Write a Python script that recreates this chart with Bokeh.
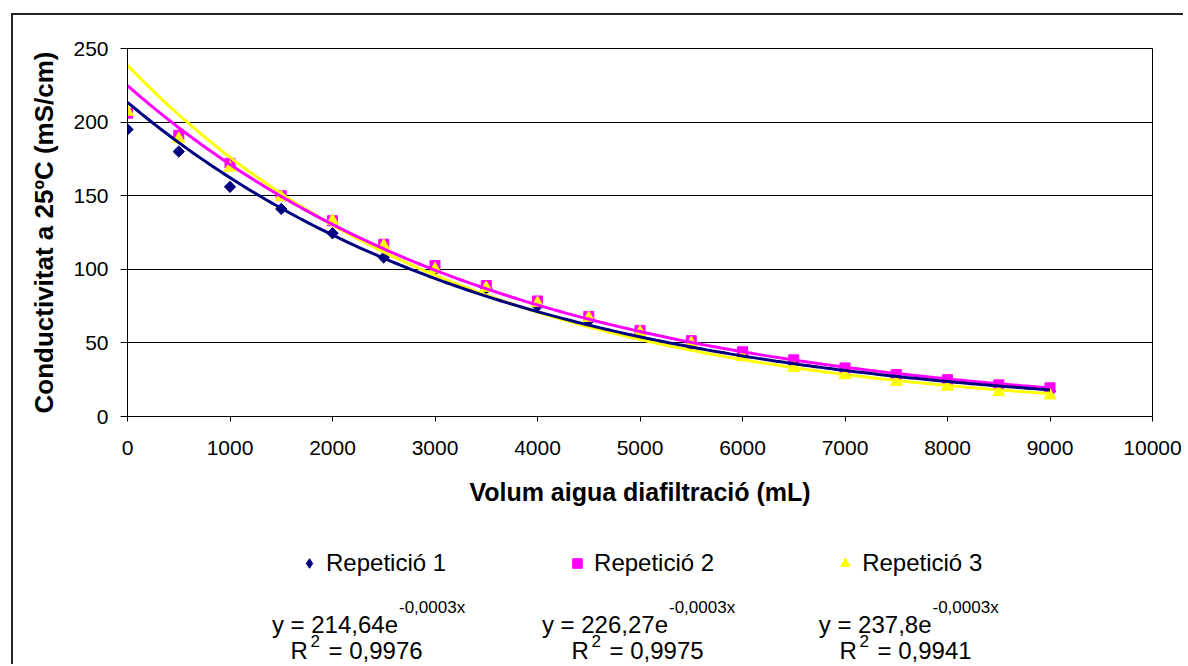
import numpy as np
from bokeh.plotting import figure
from bokeh.layouts import column
from bokeh.models import (Range1d, FixedTicker, Legend, LegendItem, Label,
                          ColumnDataSource)
from bokeh.embed import file_html
from bokeh.resources import INLINE

# ---------------- data ----------------
volum = [0, 500, 1000, 1500, 2000, 2500, 3000, 3500, 4000, 4500,
         5000, 5500, 6000, 6500, 7000, 7500, 8000, 8500, 9000]
rep1 = [195, 180, 156, 141, 124.5, 108, 99.5, 87, 75, 65,
        56, 48.3, 41.7, 36, 31.1, 26.8, 23.1, 20, 17.2]
rep2 = [206, 191, 172, 150, 133, 117, 102.5, 89, 78.5, 68,
        58.5, 51.5, 44, 38.5, 33, 28.5, 25, 21.5, 19.5]
rep3 = [207, 188.6, 169, 149, 133, 116, 100, 87.4, 77, 67,
        57.3, 49.8, 40.3, 33, 28, 23.5, 20.2, 16.5, 14.3]

x_ticks = [0, 1000, 2000, 3000, 4000, 5000, 6000, 7000, 8000, 9000, 10000]
y_ticks = [0, 50, 100, 150, 200, 250]

series_names = ["Repetició 1", "Repetició 2", "Repetició 3"]
eq_main = ["y = 214,64e", "y = 226,27e", "y = 237,8e"]
eq_exp = ["-0,0003x", "-0,0003x", "-0,0003x"]
r2_text = ["= 0,9976", "= 0,9975", "= 0,9941"]

x_title = "Volum aigua diafiltració (mL)"
y_title = "Conductivitat a 25ºC (mS/cm)"

# ---------------- style / layout constants ----------------
colors = ["#000080", "#FF00FF", "#FFFF00"]
# (marker, angle, size) in the plot; the legend cannot rotate, so it uses "diamond"
markers = [("square", np.pi / 4, 8), ("square", 0.0, 10), ("triangle", 0.0, 12)]
legend_markers = ["diamond", "square", "triangle"]
FONT = "Liberation Sans"

OX, OY = 13, 15            # content origin inside the outer chart border
W = 1170
H1, H2 = 505, 144
FRAME_L, FRAME_R, FRAME_T, FRAME_B = 127, 1152, 48, 416   # page px

# ---------------- chart figure ----------------
p = figure(width=W, height=H1, output_backend="svg", toolbar_location=None,
           x_range=Range1d(0, 10000), y_range=Range1d(0, 250),
           min_border_left=FRAME_L - OX, min_border_right=OX + W - FRAME_R,
           min_border_top=FRAME_T - OY, min_border_bottom=OY + H1 - FRAME_B)
p.background_fill_color = "white"
p.border_fill_color = "white"
p.outline_line_color = "black"
p.outline_line_width = 1

p.xgrid.visible = False
p.ygrid.grid_line_color = "black"
p.ygrid.grid_line_width = 1

p.xaxis.ticker = FixedTicker(ticks=x_ticks)
p.yaxis.ticker = FixedTicker(ticks=y_ticks)
for ax in (p.xaxis[0], p.yaxis[0]):
    ax.axis_line_color = "black"
    ax.major_tick_line_color = "black"
    ax.minor_tick_line_color = None
    ax.major_tick_in = 0
    ax.major_label_text_font = FONT
    ax.major_label_text_font_size = "21px"
    ax.major_label_text_color = "black"
    ax.axis_label_text_font = FONT
    ax.axis_label_text_font_style = "bold"
    ax.axis_label_text_color = "black"
p.xaxis.major_tick_out = 5
p.yaxis.major_tick_out = 7
p.xaxis.major_label_standoff = 19
p.yaxis.major_label_standoff = 12
p.xaxis.axis_label = x_title
p.yaxis.axis_label = y_title
p.xaxis.axis_label_text_font_size = "25px"
p.yaxis.axis_label_text_font_size = "26px"
p.xaxis.axis_label_standoff = 20
p.yaxis.axis_label_standoff = 11

# markers
for ys, c, (m, ang, sz) in zip([rep1, rep2, rep3], colors, markers):
    p.scatter(volum, ys, marker=m, angle=ang, size=sz,
              fill_color=c, line_color=c)

# exponential trendlines, least squares on ln(y) as Excel does
xv = np.array(volum, dtype=float)
xf = np.linspace(0, 9000, 200)
for ys, c in reversed(list(zip([rep1, rep2, rep3], colors))):
    b, a = np.polyfit(xv, np.log(np.array(ys, dtype=float)), 1)
    p.line(xf, np.exp(a) * np.exp(b * xf), line_color=c, line_width=3)

# ---------------- legend / equations figure (page-pixel ranges) ----------
Q_TOP, Q_BOT = OY + H1, OY + H1 + H2
q = figure(width=W, height=H2, output_backend="svg", toolbar_location=None,
           x_range=Range1d(FRAME_L, FRAME_R), y_range=Range1d(Q_BOT, Q_TOP),
           min_border_left=FRAME_L - OX, min_border_right=OX + W - FRAME_R,
           min_border_top=0, min_border_bottom=0,
           x_axis_type=None, y_axis_type=None)
q.outline_line_color = None
q.grid.visible = False
q.background_fill_color = "white"
q.border_fill_color = "white"

# legend renderers: the same series, which fall outside this panel's ranges
items = []
for n, ys, c, m in zip(series_names, [rep1, rep2, rep3], colors, legend_markers):
    src = ColumnDataSource(dict(x=volum, y=ys))
    r = q.scatter("x", "y", source=src, marker=m, size=10,
                  fill_color=c, line_color=c)
    items.append(LegendItem(label=n, renderers=[r]))

legend = Legend(items=items, orientation="horizontal",
                location=(297 - FRAME_L, Q_BOT - 577),
                glyph_width=24, glyph_height=24, label_standoff=5,
                spacing=119, padding=0, margin=0,
                border_line_alpha=0, background_fill_alpha=0,
                label_text_font=FONT, label_text_font_size="24px",
                label_text_color="black", label_height=28)
q.add_layout(legend)


def lab(x, y_base, text, size, align):
    # y_base is the wanted alphabetic baseline; convert to the box middle
    q.add_layout(Label(x=x, y=y_base - 0.35 * size, text=text,
                       text_align=align, text_baseline="middle",
                       text_font=FONT, text_font_size=f"{size}px",
                       text_color="black"))


junctions = [397.5, 667.5, 931]
r2_left = [290, 571, 839]
for i in range(3):
    jx = junctions[i]
    lab(jx, 632, eq_main[i], 24, "right")
    lab(jx + 1, 613, eq_exp[i], 17, "left")
    rx = r2_left[i]
    lab(rx, 658, "R", 24, "left")
    lab(rx + 20, 646, "2", 17, "left")
    lab(rx + 38, 658, r2_text[i], 24, "left")

root = column(p, q, spacing=0, margin=(OY - 2, 0, 0, OX - 2),
              styles={"border-top": "2px solid #222222",
                      "border-left": "2px solid #222222"})

open("out.html", "w").write(file_html(root, INLINE))
